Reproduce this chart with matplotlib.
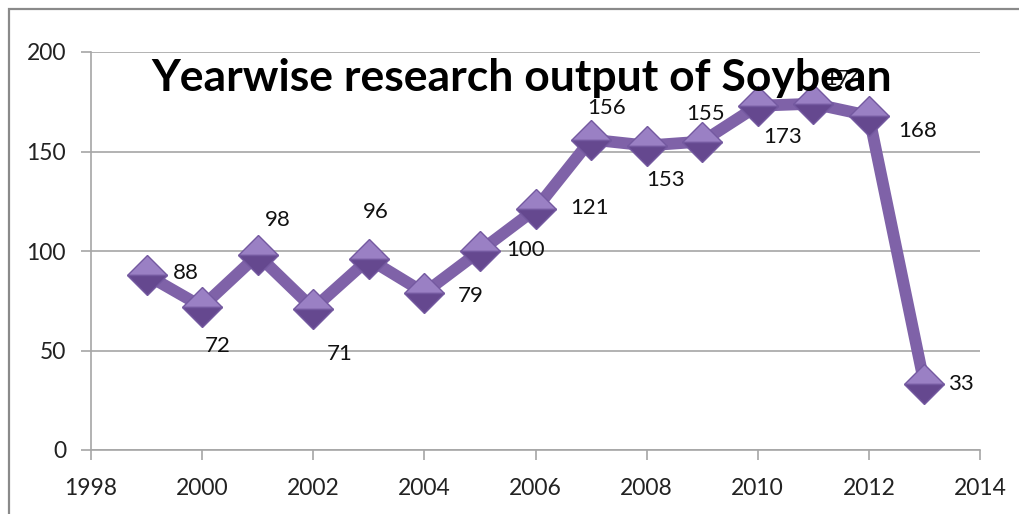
import matplotlib
matplotlib.use("Agg")
import matplotlib.pyplot as plt
from matplotlib.patches import Rectangle

years = [1999, 2000, 2001, 2002, 2003, 2004, 2005, 2006, 2007, 2008, 2009, 2010, 2011, 2012, 2013]
papers = [88, 72, 98, 71, 96, 79, 100, 121, 156, 153, 155, 173, 174, 168, 33]
# label offsets in pixels from each marker (Excel placed them by hand-ish)
label_dx = [39, 16, 20, 26, 7, 46, 46, 54, 16, 19, 3, 25, 30, 49, 36]
label_dy = [2, -39, 35, -45, 47, -3, 1, 1, 32, -34, 28, -31, 25, -15, 0]

xticks = list(range(1998, 2015, 2))
yticks = [0, 50, 100, 150, 200]

plt.rcParams['font.family'] = ['Lato', 'DejaVu Sans']

fig = plt.figure(figsize=(10.19, 5.14), dpi=100)
ax = fig.add_axes([91/1019, 64/514, 889/1019, 398/514])

# outer chart border
fig.patches.append(Rectangle((9/1019, -0.1), 1.2, (514-9)/514 + 0.1, transform=fig.transFigure,
                             fill=False, edgecolor='#8a8a8a', linewidth=1.6))

purple = '#7F62A8'
ax.plot(years, papers, color=purple, linewidth=8.5, solid_joinstyle='miter', zorder=3)
ax.plot(years, papers, linestyle='none', marker='D', markersize=20,
        fillstyle='top', markerfacecolor='#9A80C4', markerfacecoloralt='#65488F',
        markeredgecolor='#7459A0', markeredgewidth=1, zorder=4)

for x, y, dx, dy in zip(years, papers, label_dx, label_dy):
    ax.annotate(str(y), (x, y), xytext=(dx, dy), textcoords='offset pixels',
                ha='center', va='center', fontsize=16, color='#111111', zorder=5)

ax.set_xlim(1998, 2014)
ax.set_ylim(0, 200)
ax.set_xticks(xticks)
ax.set_yticks(yticks)
ax.grid(axis='y', color='#a6a6a6', linewidth=1.2)
ax.set_axisbelow(True)
for s in ['top', 'right']:
    ax.spines[s].set_visible(False)
for s in ['left', 'bottom']:
    ax.spines[s].set_color('#a6a6a6')
    ax.spines[s].set_linewidth(1.2)
ax.tick_params(axis='both', colors='#a6a6a6', length=7, width=1.2, labelsize=16.5, labelcolor='#222222')
ax.tick_params(axis='x', pad=13)
ax.tick_params(axis='y', pad=11)

ax.text(0.484, 0.985, 'Yearwise research output of Soybean', transform=ax.transAxes,
        ha='center', va='top', fontsize=32, fontweight='bold', color='black', zorder=6)

fig.savefig('out.png', dpi=100)
